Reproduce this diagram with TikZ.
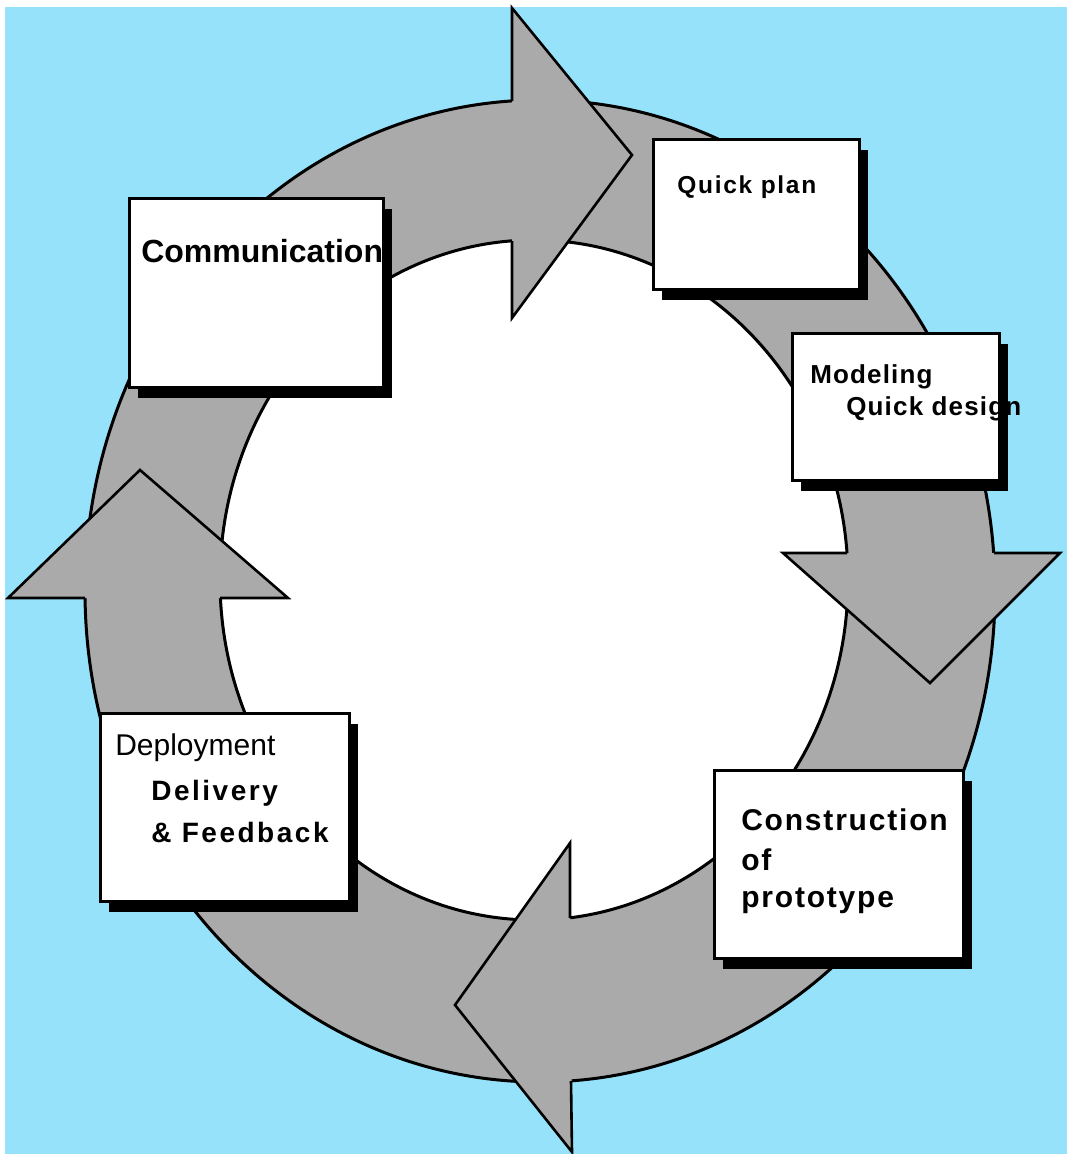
\documentclass[tikz,border=0pt]{standalone}
\usepackage{fontspec}
\setmainfont{Liberation Sans}
\usepackage{xcolor}
\usepackage{tikz}
\usetikzlibrary{positioning, shadows}

\definecolor{skyback}{RGB}{150,226,251}
\definecolor{ringgray}{RGB}{170,170,170}

\begin{document}
\begin{tikzpicture}[x=1pt, y=-1pt, line width=2.6pt]
\tikzstyle{phase} = [rectangle, draw, fill=white, inner sep=0pt, anchor=north west, drop shadow={shadow xshift=9pt, shadow yshift=-11pt, fill=black, opacity=1}]
\tikzstyle{caption} = [inner sep=0pt, anchor=base west]
\tikzstyle{head} = [fill=ringgray]

\useasboundingbox (0,0) rectangle (1067,1154);
\fill[white] (0,0) rectangle (1067,1154);
\fill[skyback] (5,7) rectangle (1067,1154);

% ring
\fill[ringgray] (540,591) ellipse [x radius=455pt, y radius=491pt];
\fill[white] (534,580) ellipse [x radius=314pt, y radius=340pt];
\draw[line width=3pt] (540,591) ellipse [x radius=455pt, y radius=491pt];
\draw[line width=3pt] (534,580) ellipse [x radius=314pt, y radius=340pt];

% arrow heads
\fill[head] (512,8) -- (632,155) -- (512,318) -- cycle;
\draw (512,101) -- (512,8) -- (632,155) -- (512,318) -- (512,241);
\fill[head] (783,553) -- (930,683) -- (1060,553) -- cycle;
\draw (847,553) -- (783,553) -- (930,683) -- (1060,553) -- (994,553);
\fill[head] (570,843) -- (455,1005) -- (572,1152) -- cycle;
\draw (570,918) -- (570,843) -- (455,1005) -- (572,1152) -- (571,1081);
\fill[head] (8,598) -- (140,470) -- (288,598) -- cycle;
\draw (85,598) -- (8,598) -- (140,470) -- (288,598) -- (220,598);

% boxes
\node (comm) [phase, minimum width=254pt, minimum height=189pt] at (128,197) {};
\node (plan) [phase, minimum width=206pt, minimum height=150pt] at (652,138) {};
\node (model) [phase, minimum width=207pt, minimum height=147pt] at (791,332) {};
\node (cons) [phase, minimum width=249pt, minimum height=188pt] at (713,769) {};
\node (deploy) [phase, minimum width=249pt, minimum height=188pt] at (99,712) {};

% texts
\node (commtxt) [caption, below right=65pt and 12pt of comm.north west, anchor=base west, font=\bfseries\fontsize{32}{38}\selectfont] {Communication};
\node (plantxt) [caption, below right=55pt and 24pt of plan.north west, anchor=base west, font=\bfseries\addfontfeatures{LetterSpace=7}\fontsize{24.5}{30}\selectfont] {Quick plan};
\node (modeltxt) [caption, below right=51pt and 18pt of model.north west, anchor=base west, font=\bfseries\addfontfeatures{LetterSpace=4.5}\fontsize{26}{31}\selectfont] {Modeling};
\node (designtxt) [caption, below right=32pt and 36pt of modeltxt.base west, anchor=base west, font=\bfseries\addfontfeatures{LetterSpace=4.5}\fontsize{26}{31}\selectfont] {Quick design};
\node (constxt) [caption, below right=61pt and 27pt of cons.north west, anchor=base west, font=\bfseries\addfontfeatures{LetterSpace=6}\fontsize{30}{36}\selectfont] {Construction};
\node (oftxt) [caption, below=40pt of constxt.base west, anchor=base west, font=\bfseries\addfontfeatures{LetterSpace=6}\fontsize{30}{36}\selectfont] {of};
\node (prototxt) [caption, below=37pt of oftxt.base west, anchor=base west, font=\bfseries\addfontfeatures{LetterSpace=6}\fontsize{30}{36}\selectfont] {prototype};
\node (deploytxt) [caption, below right=43pt and 15pt of deploy.north west, anchor=base west, font=\fontsize{30}{36}\selectfont] {Deployment};
\node (delivtxt) [caption, below right=45pt and 36pt of deploytxt.base west, anchor=base west, font=\bfseries\addfontfeatures{LetterSpace=9}\fontsize{28}{34}\selectfont] {Delivery};
\node (feedtxt) [caption, below=42pt of delivtxt.base west, anchor=base west, font=\bfseries\addfontfeatures{LetterSpace=9}\fontsize{28}{34}\selectfont] {\& Feedback};

\end{tikzpicture}
\end{document}
